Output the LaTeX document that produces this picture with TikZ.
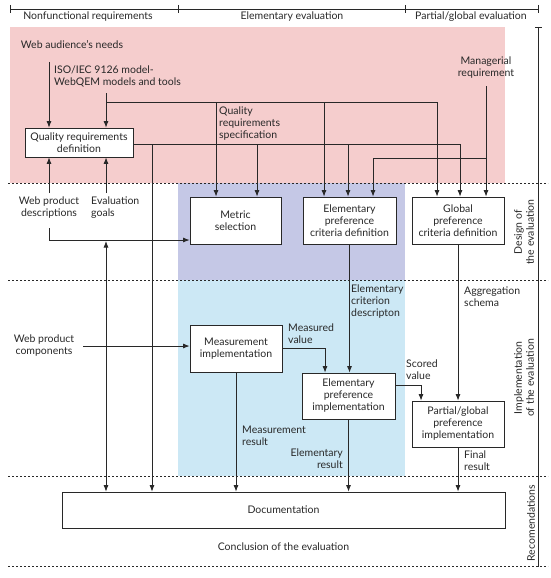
\documentclass[tikz,border=0pt]{standalone}
\usepackage{fontspec}
\setmainfont{Lato}
\usetikzlibrary{
    positioning,
    backgrounds,
    arrows.meta
    }
\definecolor{ink}{RGB}{40,40,40}
\definecolor{pinkzone}{RGB}{245,205,205}
\definecolor{lavzone}{RGB}{197,200,230}
\definecolor{skyzone}{RGB}{204,232,245}

\begin{document}
\begin{tikzpicture}[x=1pt, y=-1pt, font=\fontsize{10.5}{12}\selectfont]
% chktex-file 1
\tikzset{rule/.style =
        {
            line width=0.7pt,
            ink
        }
}

\tikzset{sep/.style =
        {
            line width=0.6pt,
            ink,
            dash pattern=on 2pt off 2pt
        }
}

\tikzset{box/.style =
        {
            rectangle,
            line width=0.8pt,
            draw=ink,
            fill=white,
            align=center,
            inner sep=0pt,
            text=ink
        }
}

\tikzset{lbl/.style =
        {
            inner sep=0pt,
            text=ink,
            align=left
        }
}

\tikzset{link/.style =
        {
            line width=0.8pt,
            ink
        }
}

\tikzset{arr/.style =
        {
            link,
            -{Latex[length=6.5pt, width=5pt]}
        }
}

\tikzset{arr2/.style =
        {
            link,
            {Latex[length=6.5pt, width=5pt]}-{Latex[length=6.5pt, width=5pt]}
        }
}
		\useasboundingbox (0,0) rectangle (550,578);

		% boxes
		\node[box, minimum width=108pt, minimum height=29pt] (qrd) at (79,142.5) {Quality requirements\\definition};
		\node[box, minimum width=91pt, minimum height=47pt] (metric) at (235.5,220.5) {Metric\\selection};
		\node[box, minimum width=93pt, minimum height=47pt] (epcd) at (349.5,220.5) {Elementary\\preference\\criteria definition};
		\node[box, minimum width=92pt, minimum height=47pt] (gpcd) at (458,220.5) {Global\\preference\\criteria definition};
		\node[box, minimum width=92pt, minimum height=47pt] (meas) at (236,348.5) {Measurement\\implementation};
		\node[box, minimum width=93pt, minimum height=46pt] (epi) at (348.5,396) {Elementary\\preference\\implementation};
		\node[box, minimum width=92pt, minimum height=46pt] (pgpi) at (458,424) {Partial/global\\preference\\implementation};
		\node[box, minimum width=443pt, minimum height=36pt] (doc) at (283.5,510) {Documentation};

		% inputs
		\node[lbl, align=center] (needs) at (72,45) {Web audience's needs};
		\node[lbl, anchor=west] (iso) at (54,76) {ISO/IEC 9126 model-\\WebQEM models and tools};
		\node[lbl, align=center] (mgr) at (486,68) {Managerial\\requirement};
		\node[lbl, align=center] (wpd) at (49,208) {Web product\\descriptions};
		\node[lbl, anchor=west] (goals) at (91,208) {Evaluation\\goals};
		\node[lbl, align=center] (wpc) at (44,346) {Web product\\components};
		\node[lbl, align=center] (concl) at (283.5,547) {Conclusion of the evaluation};

		% flow labels
		\node[lbl, anchor=west] (qrs) at (219,124) {Quality\\requirements\\specification};
		\node[lbl, anchor=west] (ecd) at (351,302) {Elementary\\criterion\\descripton};
		\node[lbl, anchor=west] (aggr) at (464,297) {Aggregation\\schema};
		\node[lbl, anchor=west] (mval) at (288,334) {Measured\\value};
		\node[lbl, anchor=west] (sval) at (406,370) {Scored\\value};
		\node[lbl, anchor=west] (mres) at (242,436) {Measurement\\result};
		\node[lbl, anchor=east, align=right] (eres) at (343,459) {Elementary\\result};
		\node[lbl, anchor=west] (fres) at (464,461) {Final\\result};

		% phases
		\foreach \name / \xx / \txt in
			{h1/88/{Nonfunctional requirements},
				h2/292/{Elementary evaluation},
				h3/471/{Partial/global evaluation}}
		\node[lbl] (\name) at (\xx,17) {\txt};
		\node[lbl, align=center, rotate=90] (design) at (524,232) {Design of\\the evaluation};
		\node[lbl, align=center, rotate=90] (impl) at (524,378) {Implementation\\of the evaluation};
		\node[lbl, rotate=90] (recom) at (531,523) {Recomendations};

		% frame
		\draw[rule] (10,9) -- (538,9);
		\foreach \xx in {10,178,405,538}
		\draw[rule] (\xx,5) -- (\xx,13);
		\draw[rule] (535,27) -- (542,27);
		\draw[rule] (538,27) -- (538,567);
		\foreach \yy in {183,280,476,566}
		\draw[sep] (8,\yy) -- (548,\yy);

		% design links
		\coordinate (n0) at (49,62);
		\coordinate (iso0) at (106,93);
		\coordinate (a1) at (437,102);
		\coordinate (b1) at (460,144);
		\coordinate (c0) at (373,158);
		\coordinate (c1) at (486,158);
		\coordinate (mgr0) at (486,86);
		\draw[arr] (n0) -- (n0 |- qrd.north);
		\draw[arr] (iso0) -- (iso0 |- qrd.north);
		\draw[link] (iso0 |- a1) -- (a1);
		\foreach \xx / \target in {216/metric, 324/epcd, 437/gpcd}
		\draw[arr] (\xx,102) -- (\xx,102 |- \target.north);
		\draw[link] (qrd.east |- b1) -- (b1);
		\foreach \xx / \target in {152/doc, 257/metric, 348/epcd, 460/gpcd}
		\draw[arr] (\xx,144) -- (\xx,144 |- \target.north);
		\draw[link] (c0) -- (c1);
		\draw[arr] (mgr0) -- (mgr0 |- gpcd.north);
		\draw[arr] (c0) -- (c0 |- epcd.north);

		\coordinate (w0) at (49,193);
		\coordinate (w1) at (49,228);
		\coordinate (w2) at (49,240);
		\coordinate (g0) at (106,193);
		\draw[arr] (w0) -- (w0 |- qrd.south);
		\draw[arr] (g0) -- (g0 |- qrd.south);
		\draw[arr] (w1) -- (w2) -- (w2 -| metric.west);
		\draw[arr2] (106,241) -- (106,241 |- doc.north);

		% implementation links
		\coordinate (wpc0) at (83,346);
		\coordinate (mv) at (325,348.5);
		\coordinate (sv) at (421,385);
		\draw[arr] (wpc0) -- (wpc0 -| meas.west);
		\draw[arr] (meas.east) -- (mv) -- (mv |- epi.north);
		\draw[arr] (sv -| epi.east) -- (sv) -- (sv |- pgpi.north);
		\draw[arr] (epcd.south) -- (epcd.south |- epi.north);
		\draw[arr] (gpcd.south) -- (gpcd.south |- pgpi.north);
		\foreach \src in {meas, epi, pgpi}
		\draw[arr] (\src.south) -- (\src.south |- doc.north);

		\begin{scope}[on background layer]
			\fill[pinkzone] (10,27) rectangle (505,183);
			\fill[lavzone] (178,183) rectangle (405,280);
			\fill[skyzone] (178,280) rectangle (405,476);
		\end{scope}

	\end{tikzpicture}
\end{document}
